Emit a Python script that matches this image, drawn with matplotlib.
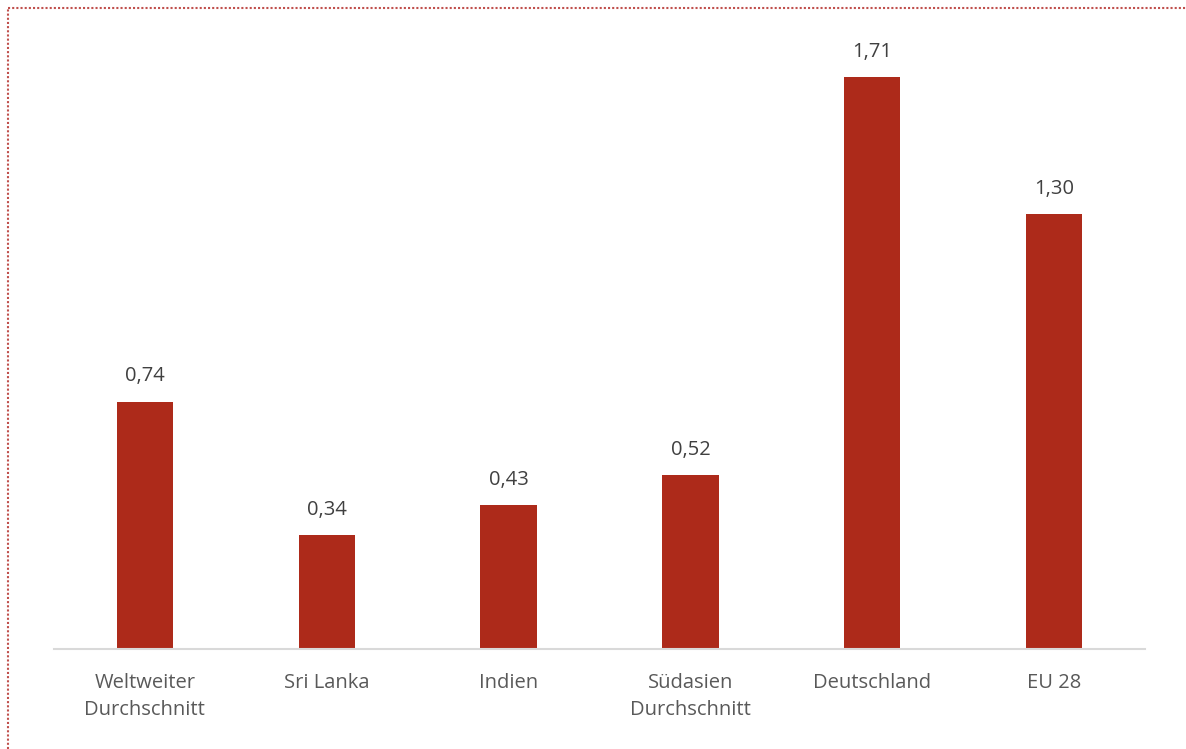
import numpy as np
import matplotlib
matplotlib.use("Agg")
from matplotlib import pyplot as plt
from matplotlib.lines import Line2D

categories = ["Weltweiter\nDurchschnitt", "Sri Lanka", "Indien", "Südasien\nDurchschnitt", "Deutschland", "EU 28"]
values = [0.74, 0.34, 0.43, 0.52, 1.71, 1.30]
labels = ["0,74", "0,34", "0,43", "0,52", "1,71", "1,30"]

W, H = 1186, 749
plt.rcParams['font.family'] = ['Open Sans', 'DejaVu Sans']
fig = plt.figure(figsize=(W / 100, H / 100), dpi=100)
ax = fig.add_axes([54 / W, 1 - 649 / H, (1145 - 54) / W, (649 - 47) / H])

x = np.arange(len(categories))
ax.bar(x, values, width=0.31, color="#AD2A1A")
for xi, v, lab in zip(x, values, labels):
    ax.text(xi, v + 0.045, lab, ha="center", va="bottom", fontsize=14.5, color="#404040")

ax.set_xlim(-0.5, len(categories) - 0.5)
ax.set_ylim(0, 1.8)
ax.set_yticks([])
ax.set_xticks(x)
ax.set_xticklabels(categories, fontsize=14.5, color="#595959", linespacing=1.5)
ax.tick_params(axis="x", length=0, pad=17)
for s in ["top", "right", "left"]:
    ax.spines[s].set_visible(False)
ax.spines["bottom"].set_color("#D9D9D9")
ax.spines["bottom"].set_linewidth(1.5)

# dotted frame at top and left
fig.add_artist(Line2D([8 / W, 8 / W], [0, 1 - 8 / H], transform=fig.transFigure,
                      color="#C0504D", lw=1.5, ls=(0, (1, 1))))
fig.add_artist(Line2D([8 / W, 1], [1 - 8 / H, 1 - 8 / H], transform=fig.transFigure,
                      color="#C0504D", lw=1.5, ls=(0, (1, 1))))

fig.savefig("out.png", dpi=100)
